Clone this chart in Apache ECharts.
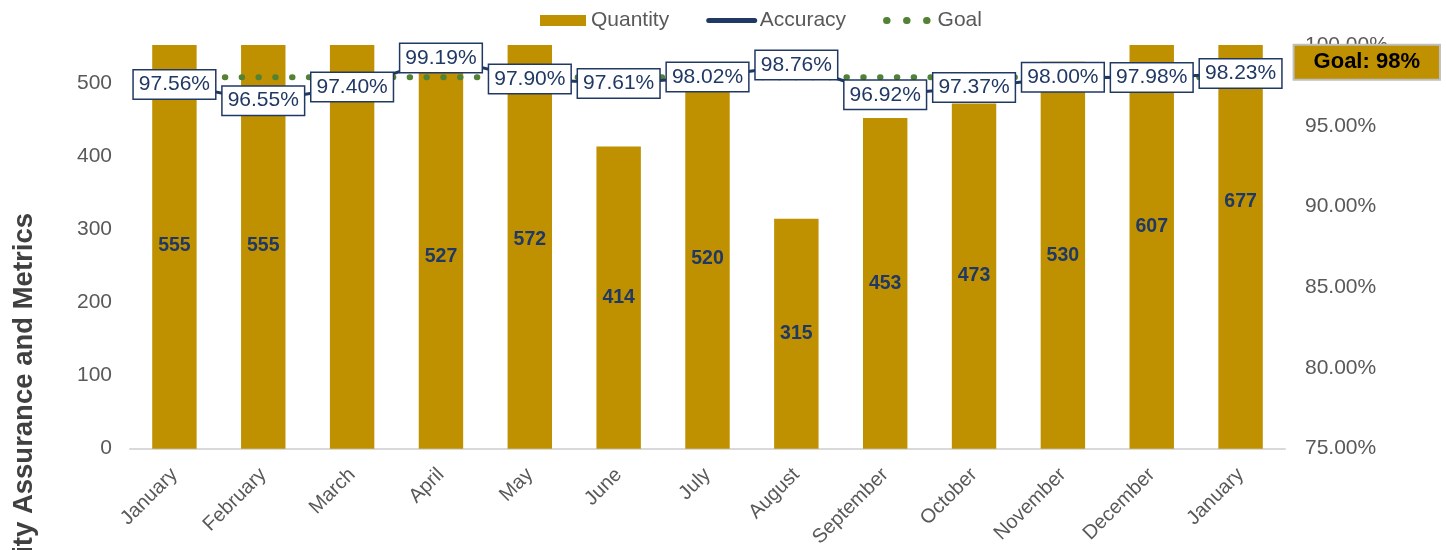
<!DOCTYPE html>
<html>
<head>
<meta charset="utf-8">
<title>Quality Assurance and Metrics</title>
<script src="https://cdn.jsdelivr.net/npm/echarts@6/dist/echarts.min.js"></script>
<style>
  html, body { margin: 0; padding: 0; background: #ffffff; }
  #chart { width: 1446px; height: 550px; }
</style>
</head>
<body>
<div id="chart"></div>
<script>
// Monthly volume and accuracy figures
const months = ['January', 'February', 'March', 'April', 'May', 'June', 'July',
  'August', 'September', 'October', 'November', 'December', 'January'];
const quantity = [555, 555, 965, 527, 572, 414, 520, 315, 453, 473, 530, 607, 677];
const accuracy = [97.56, 96.55, 97.40, 99.19, 97.90, 97.61, 98.02, 98.76, 96.92, 97.37, 98.00, 97.98, 98.23];
const goal = [98, 98, 98, 98, 98, 98, 98, 98, 98, 98, 98, 98, 98];

const GOLD = '#BF9000';
const NAVY = '#203864';
const GREEN = '#548235';
const GREY_TEXT = '#595959';
const FONT = '"Liberation Sans", Arial, sans-serif';

const chart = echarts.init(document.getElementById('chart'), null, { renderer: 'canvas' });

chart.setOption({
  animation: false,
  textStyle: { fontFamily: FONT },
  legend: {
    top: 5,
    left: 535,
    itemWidth: 46,
    itemHeight: 11,
    itemGap: 37,
    textStyle: { color: GREY_TEXT, fontSize: 21, fontFamily: FONT },
    data: [
      { name: 'Quantity', icon: 'rect' },
      { name: 'Accuracy', itemStyle: { opacity: 0 }, lineStyle: { width: 5, cap: 'round' } },
      { name: 'Goal', itemStyle: { opacity: 0 }, lineStyle: { width: 7, cap: 'round', type: [0.5, 19.5] } }
    ]
  },
  grid: { left: 130, right: 161, top: 45, bottom: 100, containLabel: false },
  graphic: [{
    type: 'text',
    x: 24,
    y: 414,
    rotation: Math.PI / 2,
    style: {
      text: 'Quality Assurance and Metrics',
      font: 'bold 27.5px ' + FONT,
      fill: '#404040',
      textAlign: 'center',
      textVerticalAlign: 'middle'
    }
  }],
  xAxis: {
    type: 'category',
    data: months,
    axisTick: { show: false },
    axisLine: { lineStyle: { color: '#D9D9D9', width: 2 } },
    axisLabel: {
      interval: 0,
      rotate: 45,
      margin: 23,
      color: GREY_TEXT,
      fontSize: 20,
      fontFamily: FONT
    }
  },
  yAxis: [{
    type: 'value',
    min: 0,
    max: 553,
    interval: 100,
    splitLine: { show: false },
    axisLine: { show: false },
    axisTick: { show: false },
    axisLabel: {
      margin: 18,
      color: GREY_TEXT,
      fontSize: 21,
      fontFamily: FONT,
      formatter: v => (v % 100 === 0 ? String(v) : '')
    }
  }, {
    type: 'value',
    min: 75,
    max: 100,
    interval: 5,
    splitLine: { show: false },
    axisLine: { show: false },
    axisTick: { show: false },
    axisLabel: {
      margin: 20,
      color: GREY_TEXT,
      fontSize: 21,
      fontFamily: FONT,
      formatter: v => v.toFixed(2) + '%'
    }
  }],
  series: [{
    name: 'Quantity',
    type: 'bar',
    data: quantity,
    yAxisIndex: 0,
    barWidth: '50%',
    barGap: '-100%',
    z: 2,
    itemStyle: { color: GOLD }
  }, {
    // transparent twin of the bars, unclipped, so each value sits at the bar's true midpoint
    name: 'QuantityValue',
    type: 'bar',
    data: quantity,
    yAxisIndex: 0,
    barWidth: '50%',
    barGap: '-100%',
    clip: false,
    silent: true,
    z: 2,
    itemStyle: { color: 'rgba(0,0,0,0)' },
    label: {
      show: true,
      position: 'inside',
      color: NAVY,
      fontWeight: 'bold',
      fontSize: 19.5,
      fontFamily: FONT
    }
  }, {
    name: 'Goal',
    type: 'line',
    data: goal,
    yAxisIndex: 1,
    z: 3,
    symbol: 'none',
    lineStyle: { color: GREEN, width: 6, type: [0.5, 16.3], cap: 'round' },
    itemStyle: { color: GREEN },
    endLabel: {
      show: true,
      distance: 0,
      offset: [54, -15],
      formatter: p => 'Goal: ' + p.value + '%',
      color: '#000000',
      fontWeight: 'bold',
      fontSize: 22,
      fontFamily: FONT,
      lineHeight: 25,
      backgroundColor: GOLD,
      borderColor: '#BFBFBF',
      borderWidth: 2,
      padding: [4, 19]
    }
  }, {
    name: 'Accuracy',
    type: 'line',
    data: accuracy,
    yAxisIndex: 1,
    z: 4,
    symbol: 'circle',
    symbolSize: 4,
    itemStyle: { color: NAVY },
    lineStyle: { color: NAVY, width: 3 },
    label: {
      show: true,
      position: 'inside',
      formatter: p => p.value.toFixed(2) + '%',
      color: NAVY,
      fontSize: 21,
      fontFamily: FONT,
      lineHeight: 22,
      backgroundColor: '#FFFFFF',
      borderColor: NAVY,
      borderWidth: 1.5,
      padding: [3, 5]
    }
  }]
});
</script>
</body>
</html>
